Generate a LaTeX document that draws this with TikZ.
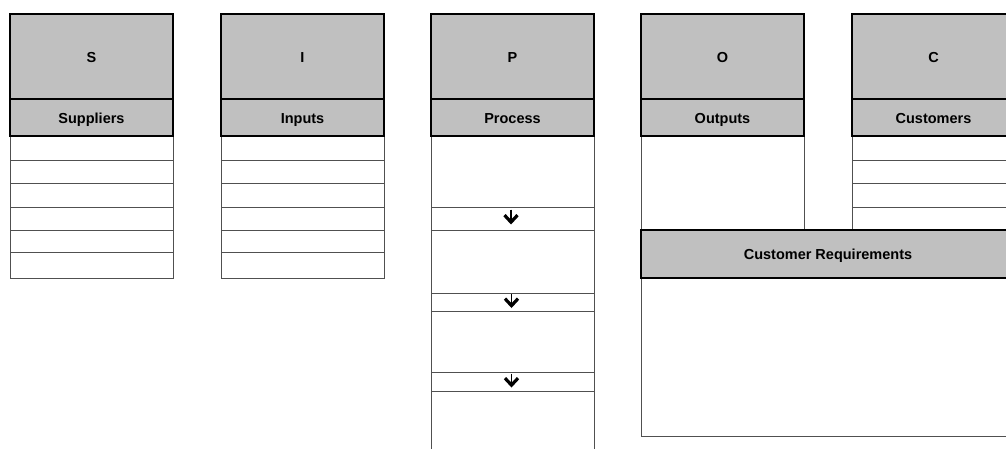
\documentclass[tikz,border=0pt]{standalone}
\usepackage{fontspec}
\setmainfont{Liberation Sans}
\usetikzlibrary{arrows.meta}
\definecolor{hdrgray}{HTML}{C0C0C0}
\definecolor{rulegray}{HTML}{505050}

\begin{document}
\begin{tikzpicture}[x=1pt,y=-1pt,inner sep=0pt,outer sep=0pt,
hdr/.style={draw,fill=hdrgray,line width=2pt,anchor=north west,minimum width=163pt,minimum height=85pt,text height=14pt,text depth=2.5pt,font=\bfseries\fontsize{14.5}{16}\selectfont},
subhdr/.style={hdr,minimum height=37pt},
cell/.style={draw=rulegray,line width=1pt,fill=white,anchor=north west,minimum width=163pt},
flow/.style={line width=1.8pt,-{Straight Barb[length=7pt,width=13pt,line width=3.2pt]}}]

\useasboundingbox (0,0) rectangle (1006,448);
\clip (0,0) rectangle (1006,448);

% S and I columns
\foreach \ya/\yb [count=\i] in {136/160,160/183,183/207,207/230,230/252,252/278} {
  \node[cell,minimum height={(\yb-\ya)*1pt}] (S\i) at (10,\ya) {};
  \node[cell,minimum height={(\yb-\ya)*1pt}] (I\i) at (221,\ya) {};
}
% P column, steps and bands between them
\foreach \ya/\yb [count=\i] in {136/207,207/230,230/293,293/311,311/372,372/391,391/460}
  \node[cell,minimum height={(\yb-\ya)*1pt}] (P\i) at (431,\ya) {};
% O and C columns
\node[cell,minimum height=94pt] (O1) at (641,136) {};
\foreach \ya/\yb [count=\i] in {136/160,160/183,183/207,207/230}
  \node[cell,minimum height={(\yb-\ya)*1pt}] (C\i) at (852,\ya) {};

% headers
\node[hdr] (Shdr) at (10,14) {S};
\node[subhdr] (Ssub) at (10,99) {Suppliers};
\node[hdr] (Ihdr) at (221,14) {I};
\node[subhdr] (Isub) at (221,99) {Inputs};
\node[hdr] (Phdr) at (431,14) {P};
\node[subhdr] (Psub) at (431,99) {Process};
\node[hdr] (Ohdr) at (641,14) {O};
\node[subhdr] (Osub) at (641,99) {Outputs};
\node[hdr] (Chdr) at (852,14) {C};
\node[subhdr] (Csub) at (852,99) {Customers};

% customer requirements
\node[cell,minimum width=374pt,minimum height=158pt] (CRbody) at (641,278) {};
\node[subhdr,minimum width=374pt,minimum height=48pt] (CRhdr) at (641,230) {Customer Requirements};

% flow arrows in the bands
\draw[flow] ([xshift=-1.5pt,yshift=9pt]P2.center) -- ([xshift=-1.5pt,yshift=-6pt]P2.center);
\draw[flow] ([xshift=-1pt,yshift=8pt]P4.center) -- ([xshift=-1pt,yshift=-6pt]P4.center);
\draw[flow] ([xshift=-1pt,yshift=8pt]P6.center) -- ([xshift=-1pt,yshift=-6pt]P6.center);
\end{tikzpicture}
\end{document}
